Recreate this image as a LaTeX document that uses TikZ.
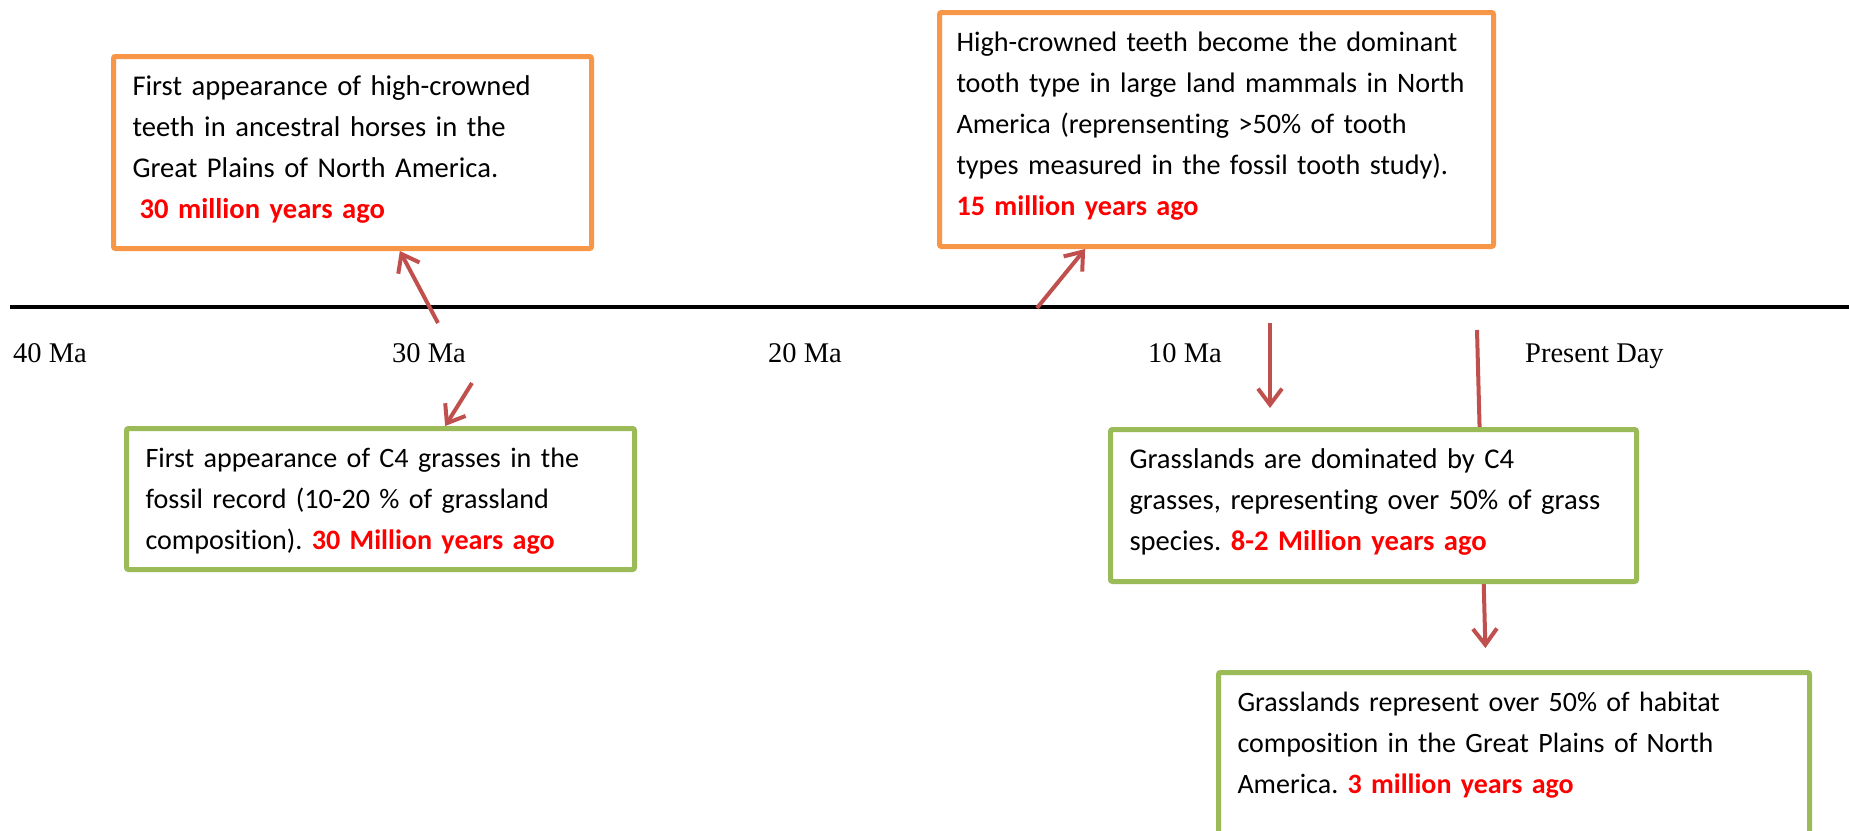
\documentclass[tikz,border=0pt]{standalone}
\usepackage{fontspec}
\setmainfont{Carlito}[Ligatures=NoCommon]
\newfontfamily\timesface{Liberation Serif}
\usetikzlibrary{arrows.meta,calc,backgrounds}
\definecolor{boxorange}{HTML}{F79646}
\definecolor{boxgreen}{HTML}{9BBB59}
\definecolor{arrowred}{HTML}{C0504D}
\definecolor{agered}{HTML}{FF0000}
\newcommand{\agetext}[1]{\textcolor{agered}{\textbf{#1}}}
\frenchspacing
\tikzset{
  event/.style={draw, line width=5pt, fill=white, rounded corners=2pt, anchor=north west, align=left,
    inner xsep=19pt, inner ysep=17pt, text height=22pt, font=\fontsize{28.6}{41}\selectfont},
  fsize/.style={font=\fontsize{#1}{41}\selectfont},
  toothbox/.style={event, draw=boxorange},
  grassbox/.style={event, draw=boxgreen},
  arr/.style={-{Straight Barb[length=16pt,width=24pt]}, line width=4pt, arrowred},
  malabel/.style={anchor=base west, inner sep=0pt, font=\timesface\fontsize{28.5}{34}\selectfont},
}

\begin{document}
\begin{tikzpicture}[x=1pt, y=-1pt]
  \useasboundingbox (0,0) rectangle (1849,830);
  % timeline
  \coordinate (tl-start) at (10,307);
  \coordinate (tl-end) at (1849,307);
  \draw[line width=4pt] (tl-start) -- (tl-end);
  \node[malabel] (ma40) at (13,362) {40 Ma};
  \node[malabel] (ma30) at (392,362) {30 Ma};
  \node[malabel] (ma20) at (768,362) {20 Ma};
  \node[malabel] (ma10) at (1148,362) {10 Ma};
  \node[malabel] (today) at (1525,362) {Present Day};
  % events
  \node[toothbox, text width=440pt, text depth=136pt] (horse) at (111,54)
    {First appearance of high-crowned\\teeth in ancestral horses in the\\Great Plains of North America.\\\hspace*{7pt}\agetext{30 million years ago}};
  \node[toothbox, fsize=28.2, inner xsep=17pt, text width=520pt, text depth=178pt] (teeth) at (937,10)
    {High-crowned teeth become the dominant\\tooth type in large land mammals in North\\America (reprensenting >50\% of tooth\\types measured in the fossil tooth study).\\\agetext{15 million years ago}};
  \node[grassbox, fsize=28.1, text width=470pt, text depth=85pt] (cfour) at (124,426)
    {First appearance of C4 grasses in the\\fossil record (10-20 \% of grassland\\composition). \agetext{30 Million years ago}};
  \node[grassbox, text width=488pt, text depth=96pt] (grass) at (1108,427)
    {Grasslands are dominated by C4\\grasses, representing over 50\% of grass\\species. \agetext{8-2 Million years ago}};
  \node[grassbox, fsize=28, text width=553pt, text depth=130pt] (habitat) at (1216,670)
    {Grasslands represent over 50\% of habitat\\composition in the Great Plains of North\\America. \agetext{3 million years ago}};
  % arrows
  \coordinate (t1) at (438,323);
  \coordinate (t2) at (1037,308);
  \coordinate (t3) at (472,383);
  \coordinate (t4) at (1270,323);
  \coordinate (t5) at (1477,330);
  \draw[arr] (t1) -- ($(horse.south west)!0.598!(horse.south east)$);
  \draw[arr] (t2) -- ($(teeth.south west)!0.265!(teeth.south east)$);
  \draw[arr] (t3) -- ($(cfour.north west)!0.626!(cfour.north east)$);
  \draw[arr, shorten >=19pt] (t4) -- (t4 |- grass.north);
  \begin{scope}[on background layer]
    \draw[arr, shorten >=22pt] (t5) -- ($(habitat.north west)!0.453!(habitat.north east)$);
  \end{scope}
\end{tikzpicture}
\end{document}
